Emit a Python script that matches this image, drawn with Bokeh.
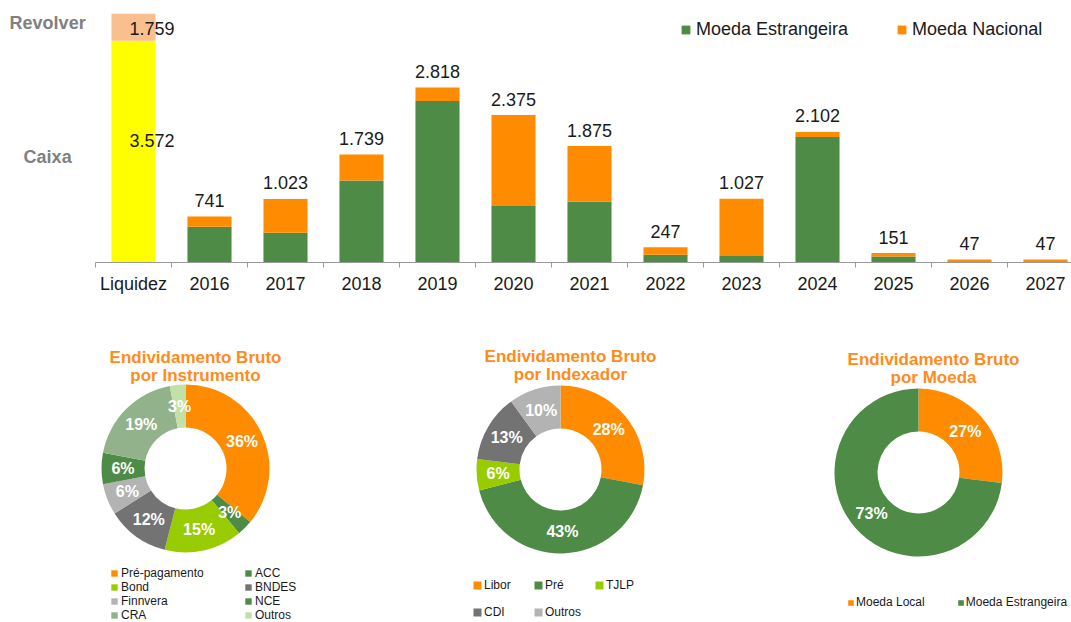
import math
from bokeh.plotting import figure
from bokeh.models import ColumnDataSource, FixedTicker, Legend, LegendItem
from bokeh.layouts import column
from bokeh.embed import file_html
from bokeh.resources import INLINE
from bokeh.core.properties import value

# ---------------- data ----------------
categories = ["Liquidez", "2016", "2017", "2018", "2019", "2020", "2021",
              "2022", "2023", "2024", "2025", "2026", "2027"]
years = categories[1:]
estrangeira = [575, 478, 1320, 2600, 910, 982, 125, 105, 2020, 97, 0, 0]
nacional = [166, 545, 419, 218, 1465, 893, 122, 922, 82, 54, 47, 47]
caixa = 3572
revolver = 1759

instr_labels = ["Pré-pagamento", "ACC", "Bond", "BNDES", "Finnvera", "NCE", "CRA", "Outros"]
instr_values = [36, 3, 15, 12, 6, 6, 19, 3]
index_labels = ["Libor", "Pré", "TJLP", "CDI", "Outros"]
index_values = [28, 43, 6, 13, 10]
moeda_labels = ["Moeda Local", "Moeda Estrangeira"]
moeda_values = [27, 73]

# ---------------- style ----------------
FONT = "Liberation Sans"
GREEN = "#4E8B46"
ORANGE = "#FF8C00"
YELLOW = "#FFFF00"
PEACH = "#F9BF8F"
LIME = "#99CC00"
DGREY = "#737373"
LGREY = "#B3B3B3"
SAGE = "#92B28C"
PALE = "#C3E0A6"
TITLE_ORANGE = "#FF8C1A"
TXT = "#1a1a1a"


def fmt(v):
    return f"{v:,}".replace(",", ".")


# ---------------- top bar chart ----------------
W = 1071
X0 = -133 / 76
p = figure(width=W, height=300, x_range=(X0, X0 + W / 76), y_range=(0, 4010),
           output_backend="svg", toolbar_location=None, y_axis_location=None,
           min_border_left=0, min_border_right=0, min_border_top=13, min_border_bottom=38,
           outline_line_color=None)
p.grid.visible = False

# liquidez bar
p.vbar(x=[0], bottom=[0], top=[caixa], width=0.58, fill_color=YELLOW, line_color=None)
p.vbar(x=[0], bottom=[caixa], top=[caixa + revolver], width=0.58, fill_color=PEACH, line_color=None)

src = ColumnDataSource(dict(
    x=list(range(1, len(years) + 1)),
    estrangeira=estrangeira,
    nacional=nacional,
    total=[a + b for a, b in zip(estrangeira, nacional)],
    lbl=[fmt(a + b) for a, b in zip(estrangeira, nacional)],
))
rs = p.vbar_stack(["estrangeira", "nacional"], x="x", width=0.58, source=src,
                  fill_color=[GREEN, ORANGE], line_color=None)

p.text(x="x", y="total", text="lbl", source=src, text_align="center",
       text_baseline="alphabetic", y_offset=-16, text_font=value(FONT),
       text_font_size="18px", text_color=TXT)

p.text(x=[0, 0], y=[1868, 3672], text=[fmt(caixa), fmt(revolver)], text_align="left",
       text_baseline="alphabetic", x_offset=-4, y_offset=-6, text_font=value(FONT),
       text_font_size="18px", text_color=TXT)

p.text(x=[-1.13, -1.13], y=[3865, 1707], text=["Revolver", "Caixa"], text_align="center",
       text_baseline="middle", text_font=value(FONT), text_font_size="18px",
       text_font_style="bold", text_color="#808080")

xa = p.xaxis[0]
xa.ticker = FixedTicker(ticks=list(range(len(categories))),
                        minor_ticks=[i - 0.5 for i in range(len(categories) + 1)])
xa.major_label_overrides = {i: c for i, c in enumerate(categories)}
xa.bounds = (-0.5, len(categories) - 0.5)
xa.major_tick_out = 0
xa.major_tick_in = 0
xa.minor_tick_out = 5
xa.minor_tick_in = 0
xa.axis_line_color = "#999999"
xa.minor_tick_line_color = "#999999"
xa.major_label_text_font = FONT
xa.major_label_text_font_size = "18px"
xa.major_label_text_color = TXT
xa.major_label_standoff = 6

top_legend = Legend(items=[LegendItem(label="Moeda Estrangeira", renderers=[rs[0]]),
                           LegendItem(label="Moeda Nacional", renderers=[rs[1]])],
                    orientation="horizontal", location=(680, 222),
                    glyph_width=11, glyph_height=11, label_standoff=5, spacing=48,
                    padding=0, margin=0, border_line_color=None, background_fill_alpha=0,
                    label_text_font=FONT, label_text_font_size="18px", label_text_color=TXT)
p.add_layout(top_legend)

# ---------------- donuts ----------------
H2 = 322
q = figure(width=W, height=H2, x_range=(0, W), y_range=(0, H2),
           output_backend="svg", toolbar_location=None, min_border=0,
           x_axis_location=None, y_axis_location=None, outline_line_color=None)
q.grid.visible = False

R_IN, R_OUT = 41, 84


def donut(cx, cy, labels, values, colors, title, tx, ty):
    total = float(sum(values))
    starts, ends, lx, ly, txt = [], [], [], [], []
    cum = 0.0
    for v in values:
        a_end = math.pi / 2 - 2 * math.pi * cum / total
        cum += v
        a_start = math.pi / 2 - 2 * math.pi * cum / total
        mid = (a_start + a_end) / 2
        rm = (R_IN + R_OUT) / 2
        starts.append(a_start)
        ends.append(a_end)
        lx.append(cx + rm * math.cos(mid))
        ly.append(cy + rm * math.sin(mid))
        txt.append(f"{v}%")
    s = ColumnDataSource(dict(start=starts, end=ends, color=colors))
    r = q.annular_wedge(x=cx, y=cy, inner_radius=R_IN, outer_radius=R_OUT,
                        start_angle="start", end_angle="end", fill_color="color",
                        line_color=None, source=s)
    q.text(x=lx, y=ly, text=txt, text_align="center", text_baseline="middle",
           text_font=value(FONT), text_font_size="16px", text_font_style="bold",
           text_color="white")
    q.text(x=[tx, tx], y=[ty, ty - 18], text=title, text_align="center",
           text_baseline="middle", text_font=value(FONT), text_font_size="17px",
           text_font_style="bold", text_color=TITLE_ORANGE)
    return r


r1 = donut(185, 154, instr_labels, instr_values,
           [ORANGE, GREEN, LIME, DGREY, LGREY, GREEN, SAGE, PALE],
           ["Endividamento Bruto", "por Instrumento"], 195, 265)
r2 = donut(560, 153, index_labels, index_values,
           [ORANGE, GREEN, LIME, DGREY, LGREY],
           ["Endividamento Bruto", "por Indexador"], 570, 266)
r3 = donut(918, 150, moeda_labels, moeda_values,
           [ORANGE, GREEN],
           ["Endividamento Bruto", "por Moeda"], 933, 263)


def mk_legend(r, labels, **kw):
    lg = Legend(items=[LegendItem(label=l, renderers=[r], index=i) for i, l in enumerate(labels)],
                padding=0, margin=0, border_line_color=None, background_fill_alpha=0,
                label_text_font=FONT, label_text_font_size="12px", label_text_color=TXT, **kw)
    q.add_layout(lg)
    return lg


mk_legend(r1, instr_labels, orientation="horizontal", ncols=2, location=(110, 0),
          glyph_width=8, glyph_height=8, label_standoff=3, label_width=123,
          label_height=12, spacing=0)
mk_legend(r2, index_labels, orientation="horizontal", ncols=3, location=(472, 3),
          glyph_width=10, glyph_height=10, label_standoff=2, label_width=36,
          label_height=12, spacing=13)
mk_legend(r3, moeda_labels, orientation="horizontal", location=(847, 13),
          glyph_width=7, glyph_height=7, label_standoff=2, label_height=12, spacing=32)

layout = column(p, q)
open("out.html", "w").write(file_html(layout, INLINE))
